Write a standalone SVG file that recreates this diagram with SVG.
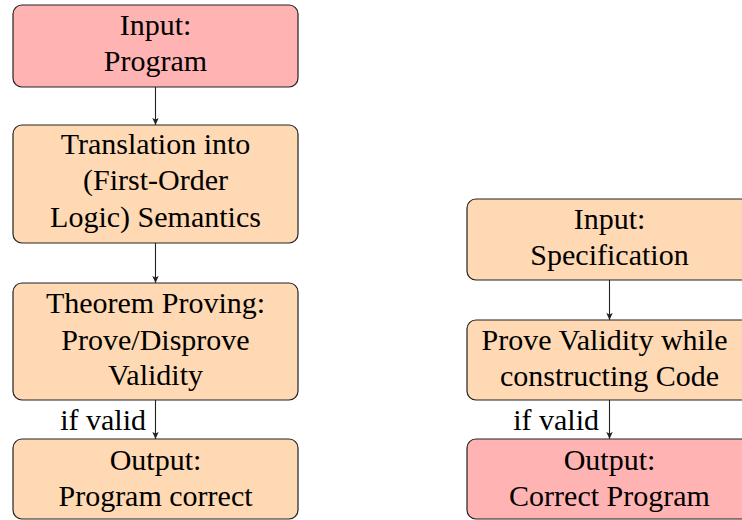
<svg xmlns="http://www.w3.org/2000/svg" width="742" height="520" viewBox="0 0 742 520">
<defs>
<marker id="ah" markerWidth="8" markerHeight="8" refX="7" refY="4" orient="auto" markerUnits="userSpaceOnUse">
<path d="M0,0.8 L7,4 L0,7.2 L1.5,4 Z" fill="#222"/>
</marker>
</defs>
<rect width="742" height="520" fill="#fff"/>
<g id="in_prog"><rect stroke="#222" stroke-width="1.2" fill="#ffb3b3" x="13" y="5" width="285" height="82" rx="9"/><text font-family="Liberation Serif" font-size="30" text-anchor="middle" x="155.5" y="35">Input:</text><text font-family="Liberation Serif" font-size="30" text-anchor="middle" x="155.5" y="71">Program</text></g>
<g id="translate"><rect stroke="#222" stroke-width="1.2" fill="#ffd9b3" x="13" y="125" width="285" height="118" rx="9"/><text font-family="Liberation Serif" font-size="30" text-anchor="middle" x="155.5" y="154">Translation into</text><text font-family="Liberation Serif" font-size="30" text-anchor="middle" x="155.5" y="190">(First-Order</text><text font-family="Liberation Serif" font-size="30" text-anchor="middle" x="155.5" y="227">Logic) Semantics</text></g>
<g id="prove"><rect stroke="#222" stroke-width="1.2" fill="#ffd9b3" x="13" y="283" width="285" height="117" rx="9"/><text font-family="Liberation Serif" font-size="30" text-anchor="middle" x="155.5" y="313">Theorem Proving:</text><text font-family="Liberation Serif" font-size="30" text-anchor="middle" x="155.5" y="350">Prove/Disprove</text><text font-family="Liberation Serif" font-size="30" text-anchor="middle" x="155.5" y="385">Validity</text></g>
<g id="out_prog"><rect stroke="#222" stroke-width="1.2" fill="#ffd9b3" x="13" y="439" width="285" height="80" rx="9"/><text font-family="Liberation Serif" font-size="30" text-anchor="middle" x="155.5" y="470">Output:</text><text font-family="Liberation Serif" font-size="30" text-anchor="middle" x="155.5" y="506">Program correct</text></g>
<g id="in_spec"><rect stroke="#222" stroke-width="1.2" fill="#ffd9b3" x="467" y="199" width="285" height="81" rx="9"/><text font-family="Liberation Serif" font-size="30" text-anchor="middle" x="609.5" y="229">Input:</text><text font-family="Liberation Serif" font-size="30" text-anchor="middle" x="609.5" y="265">Specification</text></g>
<g id="construct"><rect stroke="#222" stroke-width="1.2" fill="#ffd9b3" x="467" y="320" width="285" height="80" rx="9"/><text font-family="Liberation Serif" font-size="30" text-anchor="middle" x="604.5" y="350">Prove Validity while</text><text font-family="Liberation Serif" font-size="30" text-anchor="middle" x="609.5" y="386">constructing Code</text></g>
<g id="out_correct"><rect stroke="#222" stroke-width="1.2" fill="#ffb3b3" x="467" y="439" width="285" height="80" rx="9"/><text font-family="Liberation Serif" font-size="30" text-anchor="middle" x="609.5" y="470">Output:</text><text font-family="Liberation Serif" font-size="30" text-anchor="middle" x="609.5" y="506">Correct Program</text></g>
<g id="connectors" stroke="#222" stroke-width="1.1" fill="none" marker-end="url(#ah)">
<line x1="155.5" y1="87" x2="155.5" y2="125"/>
<line x1="155.5" y1="243" x2="155.5" y2="283"/>
<line x1="155.5" y1="400" x2="155.5" y2="439"/>
<line x1="609.5" y1="280" x2="609.5" y2="320"/>
<line x1="609.5" y1="400" x2="609.5" y2="439"/>
</g>
<g id="labels">
<text font-family="Liberation Serif" font-size="30" text-anchor="end" x="146" y="430">if valid</text>
<text font-family="Liberation Serif" font-size="30" text-anchor="end" x="599" y="430">if valid</text>
</g>
</svg>
